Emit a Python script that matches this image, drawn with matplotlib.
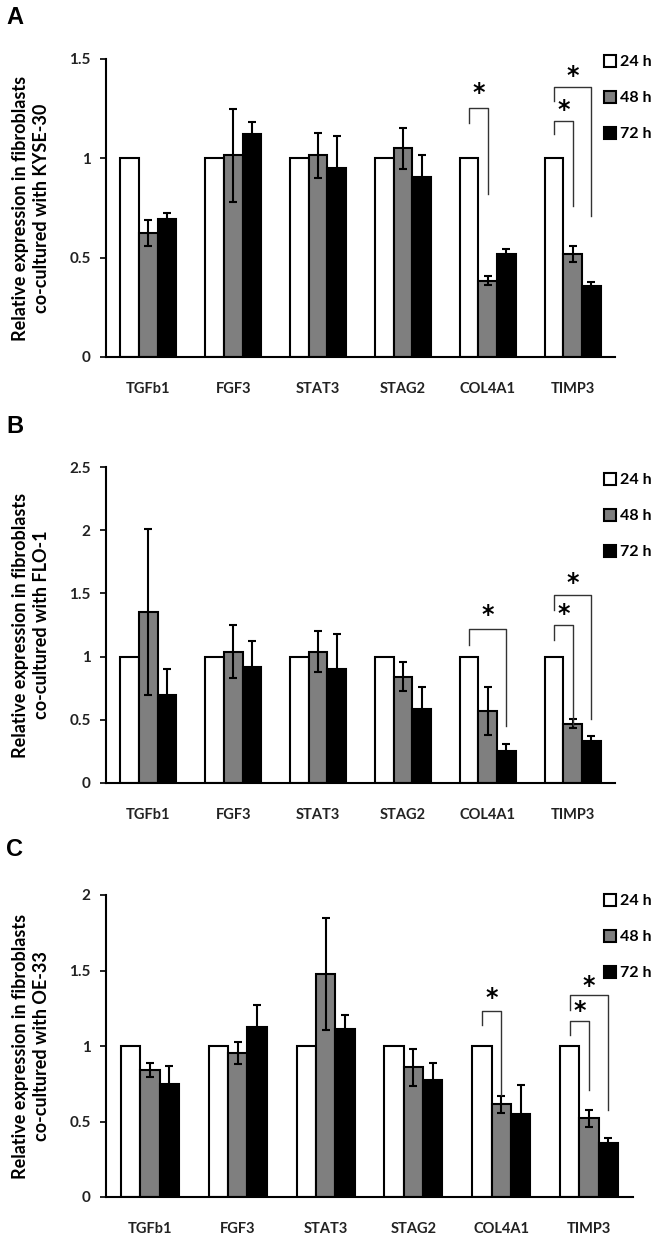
from __future__ import annotations
import matplotlib
matplotlib.use("Agg")
import matplotlib.pyplot as plt
import numpy as np
from matplotlib.patches import Patch

# =========================
# Dados
# =========================
genes = ["TGFb1", "FGF3", "STAT3", "STAG2", "COL4A1", "TIMP3"]
tempos = ["24 h", "48 h", "72 h"]

# A - KYSE-30
kyse_24 = [1.0, 1.0, 1.0, 1.0, 1.0, 1.0]
kyse_48 = [0.625, 1.015, 1.015, 1.05, 0.385, 0.52]
kyse_72 = [0.694, 1.124, 0.95, 0.906, 0.52, 0.358]
kyse_48_err = [0.065, 0.235, 0.115, 0.105, 0.025, 0.04]
kyse_72_err = [0.03, 0.06, 0.16, 0.11, 0.025, 0.02]

# B - FLO-1
flo_24 = [1.0, 1.0, 1.0, 1.0, 1.0, 1.0]
flo_48 = [1.353, 1.04, 1.04, 0.84, 0.57, 0.47]
flo_72 = [0.70, 0.915, 0.905, 0.583, 0.25, 0.33]
flo_48_err = [0.66, 0.21, 0.16, 0.115, 0.19, 0.035]
flo_72_err = [0.20, 0.21, 0.27, 0.18, 0.055, 0.04]

# C - OE-33
oe_24 = [1.0, 1.0, 1.0, 1.0, 1.0, 1.0]
oe_48 = [0.843, 0.953, 1.479, 0.858, 0.614, 0.52]
oe_72 = [0.75, 1.124, 1.115, 0.776, 0.55, 0.355]
oe_48_err = [0.045, 0.075, 0.37, 0.125, 0.055, 0.055]
oe_72_err = [0.12, 0.15, 0.093, 0.11, 0.19, 0.035]

# colchetes de significância: (gene, série alvo, y topo, y perna esq., y perna dir., y estrela)
kyse_sig = [(4, 1, 1.255, 1.18, 0.82, 1.33),
            (5, 1, 1.19, 1.12, 0.76, 1.245),
            (5, 2, 1.36, 1.29, 0.71, 1.415)]
flo_sig = [(4, 2, 1.22, 1.09, 0.45, 1.33),
           (5, 1, 1.25, 1.13, 0.456, 1.34),
           (5, 2, 1.49, 1.37, 0.51, 1.58)]
oe_sig = [(4, 1, 1.23, 1.138, 0.676, 1.32),
          (5, 1, 1.164, 1.07, 0.71, 1.23),
          (5, 2, 1.335, 1.237, 0.576, 1.40)]

W, H = 662, 1239
CORES = ["white", "#7f7f7f", "black"]
LARG = 0.22
FONTE = "Lato"


def painel(fig, ret, letra, y_letra, linha, valores, erros, sig, yticks, ytick_lbl, leg_top):
    ax = fig.add_axes([ret[0] / W, 1 - ret[3] / H, (ret[1] - ret[0]) / W, (ret[3] - ret[2]) / H])
    x = np.arange(len(genes))
    for k, vals in enumerate(valores):
        err = erros[k]
        ax.bar(x + (k - 1) * LARG, vals, LARG, color=CORES[k], edgecolor="black",
               linewidth=1.5, label=tempos[k], zorder=2)
        if err is not None:
            ax.errorbar(x + (k - 1) * LARG, vals, yerr=err, fmt="none", ecolor="black",
                        elinewidth=1.5, capsize=3, capthick=1.5, zorder=3)

    for g, s, y_top, y_esq, y_dir, y_star in sig:
        xe = g - LARG
        xd = g + (s - 1) * LARG
        ax.plot([xe, xe, xd, xd], [y_esq, y_top, y_top, y_dir], color="#333333",
                lw=1.0, zorder=4, clip_on=False)
        ax.text((xe + xd) / 2, y_star, "*", ha="center", va="center", fontsize=17,
                fontweight="bold", family="DejaVu Sans", zorder=4)

    ax.set_xlim(-0.5, len(genes) - 0.5)
    ax.set_ylim(0, yticks[-1])
    ax.set_yticks(yticks)
    ax.set_yticklabels(ytick_lbl)
    ax.set_xticks(x)
    ax.set_xticklabels(genes)
    for sp in ["top", "right"]:
        ax.spines[sp].set_visible(False)
    for sp in ["left", "bottom"]:
        ax.spines[sp].set_linewidth(1.5)
    ax.tick_params(axis="x", length=0, pad=18)
    ax.tick_params(axis="y", length=4, width=1.2, pad=7)
    for t in ax.get_xticklabels():
        t.set_fontsize(10.5)
    for t in ax.get_yticklabels():
        t.set_fontsize(11)
    for t in ax.get_xticklabels() + ax.get_yticklabels():
        t.set_fontfamily(FONTE)
        t.set_fontweight("bold")
        t.set_color("#222222")

    ax.set_ylabel("Relative expression in fibroblasts\n" + linha, fontsize=13,
                  fontweight="bold", family=FONTE, linespacing=1.3)
    ax.yaxis.set_label_coords(-0.11 * 509 / (ret[1] - ret[0]), 0.5)

    handles = [Patch(facecolor=CORES[k], edgecolor="black", linewidth=1.5) for k in range(3)]
    fig.legend(handles, tempos, loc="upper left", bbox_to_anchor=(604 / W, 1 - leg_top / H),
               frameon=False, borderpad=0, borderaxespad=0, labelspacing=1.35,
               handlelength=0.75, handleheight=0.75, handletextpad=0.25,
               prop={"family": FONTE, "weight": "bold", "size": 11.5})

    fig.text(6 / W, 1 - y_letra / H, letra, fontsize=17, fontweight="bold",
             family="Liberation Sans", va="baseline", ha="left")
    return ax


fig = plt.figure(figsize=(W / 100, H / 100), dpi=100)

painel(fig, (106, 615, 59, 357), "A", 24, "co-cultured with KYSE-30",
       [kyse_24, kyse_48, kyse_72], [None, kyse_48_err, kyse_72_err], kyse_sig,
       [0, 0.5, 1, 1.5], ["0", "0.5", "1", "1.5"], 55)

painel(fig, (106, 615, 467, 783), "B", 433, "co-cultured with FLO-1",
       [flo_24, flo_48, flo_72], [None, flo_48_err, flo_72_err], flo_sig,
       [0, 0.5, 1, 1.5, 2, 2.5], ["0", "0.5", "1", "1.5", "2", "2.5"], 473)

painel(fig, (106, 633, 895, 1197), "C", 856, "co-cultured with OE-33",
       [oe_24, oe_48, oe_72], [None, oe_48_err, oe_72_err], oe_sig,
       [0, 0.5, 1, 1.5, 2], ["0", "0.5", "1", "1.5", "2"], 894)

fig.savefig("out.png", dpi=100)
